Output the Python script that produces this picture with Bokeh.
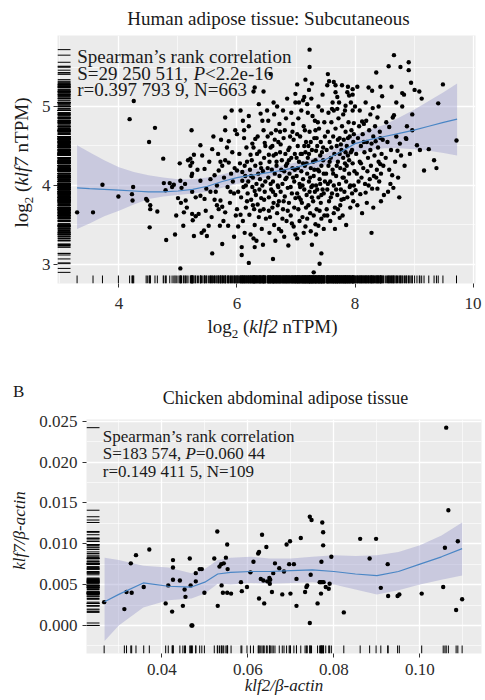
import math
from bokeh.plotting import figure
from bokeh.models import Label, FixedTicker, Range1d, Div
from bokeh.layouts import row
from bokeh.embed import file_html
from bokeh.resources import INLINE

SERIF = "Liberation Serif"

# ---------------- Panel A data: human subcutaneous adipose (log2 nTPM) -------------
hx_L = [3.29,3.56,3.72,3.99,4.24,4.22,4.23,4.25,4.18,4.46, 4.48,4.53,4.53,4.65,4.52,4.61,4.51,4.76,4.79,4.75, 4.80,4.95,4.86,4.93,4.90,4.97]
hy_L = [3.66,3.66,4.01,3.86,3.98,3.89,3.81,5.07,4.84,3.83, 3.81,3.75,3.70,3.67,3.47,4.73,4.55,4.03,3.94,4.34, 3.31,3.38,4.03,4.01,3.98,3.62]
hx_1 = [5.03,5.04,5.06,5.05,5.09,5.10,5.13,5.04,5.17,5.21, 5.24,5.24,5.23,5.24,5.30,5.38,5.24,5.30,5.35,5.25, 5.27,5.40,5.44,5.38,5.23,5.38,5.41,5.21,5.27,5.00, 5.12,5.33,5.47,5.15]
hy_1 = [4.28,4.06,3.97,3.78,3.49,3.66,3.81,2.95,4.32,4.25, 4.29,4.15,4.12,3.92,3.85,3.87,3.64,3.61,3.64,3.56, 3.36,3.40,3.43,4.06,4.70,4.51,4.38,4.34,4.39,3.84, 4.02,4.20,3.68,3.72]
hx_2 = [5.53,5.45,5.48,5.55,5.45,5.52,5.49,5.58,5.62,5.66, 5.69,5.75,5.72,5.80,5.86,5.64,5.72,5.66,5.69,5.75, 5.80,5.71,5.85,5.75,5.95,5.58,5.80,5.91,5.80,5.97, 5.86,5.60,5.68,5.78,5.90,5.93,5.84,5.57,5.62,5.95, 5.88,5.98,5.77,5.92,5.83,5.73,5.96,5.55,5.89]
hy_2 = [4.30,4.21,3.96,3.92,3.83,3.49,3.36,3.14,4.13,4.00, 4.19,4.25,4.30,4.32,4.29,3.92,3.81,3.75,3.70,3.73, 3.66,3.49,3.49,3.26,3.35,4.46,4.86,4.95,4.70,4.70, 4.56,4.62,4.40,4.10,4.15,4.05,3.98,3.60,3.82,3.90, 3.78,3.62,3.55,4.42,4.48,4.58,4.22,4.08,3.92]
hx_3a = [6.00,6.06,6.12,6.40,6.43,6.45,6.31,6.47,6.26,6.23, 6.38,6.28,6.45,6.30,6.00,6.02,6.09,6.00,6.09,6.13, 6.17,6.08,6.08,6.28,6.30,6.20]
hy_3a = [4.65,4.95,4.70,4.91,4.82,4.70,4.59,4.54,4.53,4.39, 4.43,5.19,5.19,5.24,3.70,3.92,4.06,4.19,4.17,4.25, 4.30,3.22,3.12,3.33,3.22,3.02]
hx_3b = [6.04,6.07,6.10,6.11,6.14,6.15,6.16,6.18,6.19,6.21, 6.22,6.24,6.25,6.26,6.27,6.29,6.30,6.31,6.32,6.33, 6.34,6.35,6.36,6.37,6.38,6.39,6.40,6.41,6.42,6.43, 6.44,6.45,6.46,6.47,6.48,6.49,6.05,6.12,6.20,6.35, 6.13,6.23,6.33,6.44,6.06,6.17,6.28,6.39,6.48,6.20, 6.10,6.37,6.24,6.41,6.15,6.30,6.46,6.02,6.27]
hy_3b = [4.40,3.85,3.55,3.98,4.12,3.72,4.48,3.90,4.05,3.63, 4.20,3.82,4.32,3.98,4.10,3.70,3.50,4.25,3.88,4.02, 4.40,3.76,4.15,3.60,3.95,4.08,4.28,3.84,3.45,4.00, 4.18,3.70,4.35,3.92,4.05,3.58,4.28,4.60,4.75,4.62, 3.40,3.38,3.30,3.25,3.63,3.80,4.48,3.68,4.50,4.88, 4.82,5.03,4.12,4.22,4.00,3.93,3.82,3.48,3.75]
hx_4a = [6.62,6.51,6.57,6.54,6.61,6.87,6.99,6.99,6.99]
hy_4a = [5.05,4.95,5.41,4.39,3.07,3.24,3.38,5.16,5.05]
hx_4b = [6.52,6.53,6.54,6.55,6.56,6.57,6.58,6.59,6.60,6.61,
         6.62,6.63,6.64,6.65,6.66,6.67,6.68,6.69,6.70,6.71,
         6.72,6.73,6.74,6.75,6.76,6.77,6.78,6.79,6.80,6.81,
         6.82,6.83,6.84,6.85,6.86,6.87,6.88,6.89,6.90,6.91,
         6.92,6.93,6.94,6.95,6.96,6.97,6.98,6.99,6.53,6.58,
         6.63,6.68,6.72,6.78,6.85,6.92,6.55,6.65,6.71,6.80,
         6.93,6.60,6.66,6.74,6.82,6.89,6.96,6.52,6.62,6.70,
         6.77,6.84,6.91,6.98,6.57,6.67,6.75,6.83,6.88,6.95,
         6.61,6.69,6.79,6.86,6.97,6.54,6.64,6.73,6.81,6.94]
hy_4b = [4.62,4.10,3.85,4.30,3.60,4.48,3.95,4.20,3.72,4.05,
         4.38,3.50,4.15,3.88,4.70,4.25,3.65,4.00,4.55,3.80,
         4.12,4.42,3.92,3.42,4.32,4.02,3.70,4.60,4.18,3.86,
         4.08,4.85,3.55,4.28,3.97,4.45,3.78,4.15,4.62,3.62,
         4.35,3.90,4.22,4.78,3.48,4.05,4.40,3.84,4.82,4.66,
         4.90,5.00,4.78,4.95,5.10,4.92,3.40,3.30,3.45,3.35,
         3.52,4.50,4.40,4.52,4.40,4.48,4.58,4.22,3.78,3.98,
         3.58,4.10,3.98,4.20,4.02,4.30,4.20,4.25,4.32,4.10,
         3.92,3.75,3.80,3.68,3.72,3.68,4.58,4.68,4.70,4.68]
hx_5a = [7.23,7.23,7.16,7.02,7.27,7.22,7.05,7.19,7.12,7.43, 7.33,7.38,7.25,7.27,7.43,7.40,7.30,7.02]
hy_5a = [5.72,5.50,5.34,5.28,5.29,5.21,5.05,5.03,5.08,3.58, 3.51,3.49,3.42,3.25,3.14,3.01,2.90,3.33]
hx_5b = [7.01,7.02,7.03,7.04,7.05,7.06,7.07,7.08,7.09,7.10,
         7.11,7.12,7.13,7.14,7.15,7.16,7.17,7.18,7.19,7.20,
         7.21,7.22,7.23,7.24,7.25,7.26,7.27,7.28,7.29,7.30,
         7.31,7.32,7.33,7.34,7.35,7.36,7.37,7.38,7.39,7.40,
         7.41,7.42,7.43,7.44,7.45,7.46,7.47,7.48,7.49,7.04,
         7.09,7.14,7.20,7.26,7.32,7.38,7.45,7.06,7.13,7.19,
         7.34,7.47,7.03,7.08,7.11,7.16,7.21,7.24,7.29,7.33,
         7.36,7.41,7.46,7.49,7.02,7.07,7.12,7.17,7.22,7.27,
         7.31,7.35,7.40,7.44,7.48,7.05,7.15,7.25,7.30,7.37,
         7.42,7.10,7.18,7.28,7.39,7.47,7.01,7.14,7.23,7.34,
         7.43]
hy_5b = [4.12,3.90,4.50,3.70,4.30,4.02,4.62,3.82,4.18,4.40,
         3.60,4.08,4.75,3.95,4.25,3.48,4.55,3.88,4.15,4.35,
         3.75,4.05,4.68,3.65,4.22,3.98,4.45,4.88,3.80,4.12,
         4.60,3.92,4.32,4.00,3.70,4.50,4.20,3.85,4.72,4.08,
         4.38,3.78,4.25,4.95,3.95,4.48,4.15,3.62,4.62,4.85,
         4.95,5.12,4.92,5.10,4.82,5.00,5.15,3.55,3.40,3.58,
         3.38,3.45,4.22,4.40,4.00,4.42,4.50,4.10,4.30,4.70,
         3.95,4.02,4.32,4.05,4.65,3.98,4.28,3.72,4.40,3.85,
         4.20,4.60,3.68,4.42,4.80,3.85,4.70,4.55,3.62,4.80,
         4.55,3.78,4.28,4.00,4.18,3.90,4.35,4.50,3.92,4.44,
         3.88]
hx_6a = [7.54,7.53,7.64,7.67,7.78,7.88,7.96,7.67,7.70,7.87, 7.90,7.96,7.84,7.83,7.70,7.61,7.64,7.96,7.98,7.81, 7.75,7.71,7.64,7.53,7.74,7.98,7.56]
hy_6a = [5.41,5.27,5.31,5.27,5.27,5.25,5.22,5.18,5.12,5.18, 5.14,5.15,5.01,4.95,4.97,4.97,4.95,4.95,4.79,3.83, 3.75,3.70,3.65,3.62,3.59,4.00,5.32]
hx_6b = [7.51,7.52,7.53,7.54,7.55,7.56,7.57,7.58,7.59,7.60,
         7.61,7.62,7.63,7.64,7.65,7.66,7.67,7.68,7.69,7.70,
         7.71,7.72,7.73,7.74,7.75,7.76,7.77,7.78,7.79,7.80,
         7.81,7.82,7.83,7.84,7.85,7.86,7.87,7.88,7.89,7.90,
         7.91,7.92,7.93,7.94,7.95,7.96,7.97,7.99,7.52,7.58,
         7.66,7.79,7.85,7.92,7.55,7.62,7.73,7.80,7.93,7.57,
         7.63,7.69,7.76,7.82,7.88,7.95,7.54,7.60,7.68,7.74,
         7.81,7.86,7.91,7.98,7.59,7.71,7.77,7.84,7.90,7.97]
hy_6b = [4.15,4.45,3.95,4.68,4.25,3.80,4.55,4.05,4.35,4.80,
         3.90,4.20,4.62,4.00,4.40,3.72,4.72,4.12,4.50,3.88,
         4.30,4.85,4.02,4.60,4.22,3.95,4.45,4.75,4.10,4.35,
         4.58,3.92,4.28,4.68,4.05,4.50,3.85,4.38,4.80,4.15,
         4.62,4.00,4.42,4.70,3.90,4.28,4.55,4.18,3.70,3.55,
         3.45,3.62,3.50,3.72,4.92,5.05,5.05,4.90,5.05,4.30,
         4.15,4.25,4.52,4.20,4.60,4.45,4.02,4.48,3.95,4.40,
         4.10,4.25,3.98,4.65,3.85,4.58,3.82,4.42,4.32,3.80]
hx_7a = [8.04,8.23,8.29,8.43,8.46,8.36,8.30,8.38,8.19,8.12, 8.15,8.07,8.00,8.43,8.35,8.28,8.38,8.29,8.18,8.09, 8.01,8.49,8.28,8.43]
hy_7a = [5.25,5.24,5.20,5.25,5.13,5.43,4.98,4.86,4.82,4.81, 4.78,4.75,5.00,4.60,4.56,4.53,3.96,3.96,3.91,3.89, 3.94,3.88,3.40,4.27]
hx_7b = [8.02,8.03,8.05,8.06,8.08,8.10,8.11,8.13,8.14,8.16, 8.17,8.20,8.21,8.22,8.24,8.25,8.26,8.27,8.31,8.32, 8.33,8.34,8.37,8.39,8.40,8.41,8.42,8.44,8.45,8.47, 8.48,8.04,8.12,8.20,8.31,8.44,8.08,8.18,8.26,8.40, 8.10,8.23,8.36,8.15]
hy_7b = [4.40,4.15,4.60,4.05,4.30,4.50,4.10,4.65,4.22,4.42, 4.02,4.55,4.18,4.35,4.70,4.08,4.45,4.25,4.62,4.12, 4.38,4.75,4.20,4.48,4.30,4.05,4.68,4.15,4.40,4.58, 4.25,3.75,3.65,3.78,3.72,3.80,4.95,5.05,4.90,5.00, 4.28,4.00,4.10,4.55]
hx_8 = [8.66,8.57,8.77,8.91,8.80,8.83,8.80,8.64,8.97,8.86, 8.58,8.63,8.60,8.65,8.91,8.87,8.76,8.72,8.66,8.97, 8.52,8.55,8.58,8.61,8.68,8.70,8.73,8.78,8.84,8.88, 8.93,8.53,8.70,8.95,8.56,8.75,8.62]
hy_8 = [5.65,5.51,5.50,5.56,5.17,5.15,5.00,4.86,4.70,4.60, 4.74,4.13,4.02,3.97,5.46,4.59,4.53,4.44,4.89,4.90, 4.35,4.55,4.20,4.45,4.30,4.62,4.10,4.38,4.25,4.75, 4.40,4.80,5.05,5.30,3.92,3.85,5.25]
hx_9 = [9.01,9.09,9.13,9.49,9.41,9.72,9.05,9.25,9.17,9.34,9.38,9.10]
hy_9 = [5.21,5.19,5.10,5.28,5.04,4.57,4.51,4.46,4.19,4.32,4.22,4.45]

human_klf2 = hx_L + hx_1 + hx_2 + hx_3a + hx_3b + hx_4a + hx_4b + hx_5a + hx_5b + hx_6a + hx_6b + hx_7a + hx_7b + hx_8 + hx_9
human_klf7 = hy_L + hy_1 + hy_2 + hy_3a + hy_3b + hy_4a + hy_4b + hy_5a + hy_5b + hy_6a + hy_6b + hy_7a + hy_7b + hy_8 + hy_9

# LOESS fit with confidence band
human_fit_x = [3.29,3.5,3.75,4.0,4.25,4.5,4.75,5.0,5.25,5.5,5.75,6.0,6.25,6.5,6.75,7.0,7.25,7.5,7.75,8.0,8.25,8.5,8.75,9.0,9.25,9.5,9.73]
human_fit_y = [3.97,3.96,3.95,3.94,3.93,3.92,3.92,3.93,3.95,3.99,4.05,4.10,4.13,4.16,4.19,4.23,4.28,4.33,4.42,4.53,4.58,4.62,4.66,4.70,4.75,4.80,4.84]
human_fit_hi = [4.51,4.42,4.32,4.23,4.17,4.13,4.10,4.08,4.08,4.10,4.14,4.19,4.21,4.22,4.25,4.29,4.34,4.40,4.51,4.64,4.71,4.77,4.86,4.96,5.07,5.18,5.29]
human_fit_lo = [3.45,3.52,3.61,3.68,3.76,3.83,3.86,3.88,3.90,3.92,3.97,4.02,4.06,4.10,4.13,4.16,4.21,4.26,4.33,4.42,4.45,4.47,4.47,4.46,4.44,4.41,4.38]

human_xticks = [4, 6, 8, 10]
human_xtick_labels = ["4", "6", "8", "10"]
human_xminor = [3, 5, 7, 9]
human_yticks = [3, 4, 5]
human_ytick_labels = ["3", "4", "5"]
human_yminor = [2.5, 3.5, 4.5, 5.5]

# ---------------- Panel B data: chicken abdominal adipose -------------
chicken_klf2 = [0.0266,0.0313,0.0318,0.0330,0.0328,0.0340,0.0358,0.0371,0.0409,0.0415,
                0.0424,0.0426,0.0426,0.0426,0.0442,0.0449,0.0453,0.0455,0.0465,0.0467,
                0.0469,0.0471,0.0479,0.0479,0.0488,0.0493,0.0499,0.0529,0.0522,0.0530,
                0.0534,0.0538,0.0539,0.0542,0.0544,0.0549,0.0552,0.0553,0.0552,0.0561,
                0.0584,0.0586,0.0598,0.0606,0.0613,0.0624,0.0626,0.0633,0.0626,0.0630,
                0.0638,0.0643,0.0645,0.0651,0.0656,0.0663,0.0673,0.0680,0.0684,0.0690,
                0.0698,0.0696,0.0699,0.0707,0.0713,0.0713,0.0723,0.0733,0.0736,0.0738,
                0.0744,0.0748,0.0746,0.0744,0.0762,0.0769,0.0770,0.0771,0.0773,0.0775,
                0.0775,0.0776,0.0781,0.0788,0.0790,0.0794,0.0823,0.0861,0.0883,0.0898,
                0.0909,0.0925,0.0926,0.0948,0.0952,0.1004,0.1054,0.1058,0.1061,0.1066,
                0.1084,0.1088,0.1098,0.0659,0.0650,0.0636,0.0772,0.0767,0.0652]
chicken_klf7 = [0.00285,0.0020,0.0041,0.0040,0.0076,0.0086,0.0047,0.0093,0.0027,0.0049,
                0.0017,0.0056,0.0071,0.0080,0.0055,0.0024,0.0044,0.0035,0.0082,0.0049,
                0.0000,0.0000,0.0064,0.0054,0.0069,0.0069,0.0040,0.0115,0.0082,0.0024,
                0.0072,0.0075,0.0049,0.0040,0.0076,0.0083,0.0099,0.0069,0.0040,0.0039,
                0.0053,0.0042,0.0047,0.0065,0.0078,0.0088,0.0090,0.0111,0.0033,0.0057,
                0.0027,0.0096,0.0054,0.0051,0.0041,0.0076,0.0070,0.0038,0.0066,0.0099,
                0.0103,0.0075,0.0039,0.0075,0.0057,0.0024,0.0107,0.0041,0.0047,0.0049,
                0.0133,0.0129,0.0062,0.0003,0.0027,0.0053,0.0039,0.0078,0.0126,0.0114,
                0.0098,0.0053,0.0047,0.0045,0.0051,0.0084,0.0016,0.0106,0.0082,0.0106,
                0.0046,0.0075,0.0036,0.0036,0.0038,0.0039,0.0047,0.0095,0.0242,0.0141,
                0.0019,0.0103,0.0032,0.0064,0.0058,0.0055,0.0053,0.0053,0.0056]

chicken_fit_x = [0.0267,0.0300,0.0357,0.0415,0.0469,0.0500,0.0530,0.0560,0.0607,0.0650,0.0700,0.0750,0.0800,0.0850,0.0900,0.0950,0.1000,0.1050,0.1098]
chicken_fit_y = [0.0029,0.0038,0.0052,0.0048,0.0047,0.0053,0.0063,0.0065,0.0066,0.0066,0.0067,0.0068,0.0066,0.0063,0.0061,0.0066,0.0075,0.0084,0.0094]
chicken_fit_hi = [0.0083,0.0080,0.0073,0.0071,0.0064,0.0069,0.0080,0.0083,0.0084,0.0082,0.0082,0.0084,0.0086,0.0085,0.0086,0.0090,0.0098,0.0110,0.0126]
chicken_fit_lo = [-0.0019,0.0000,0.0022,0.0031,0.0033,0.0039,0.0051,0.0050,0.0052,0.0051,0.0052,0.0053,0.0050,0.0044,0.0038,0.0043,0.0050,0.0056,0.0061]

chicken_xticks = [0.04, 0.06, 0.08, 0.10]
chicken_xtick_labels = ["0.04", "0.06", "0.08", "0.10"]
chicken_xminor = [0.03, 0.05, 0.07, 0.09, 0.11]
chicken_yticks = [0.0, 0.005, 0.010, 0.015, 0.020, 0.025]
chicken_ytick_labels = ["0.000", "0.005", "0.010", "0.015", "0.020", "0.025"]
chicken_yminor = [-0.0025, 0.0025, 0.0075, 0.0125, 0.0175, 0.0225]

# ---------------- text metrics (Times / Liberation Serif, 1/1000 em) -------------
REG = {' ': 250, '(': 333, ')': 333, ',': 250, '-': 333, '.': 250, '<': 564, '=': 564,
       'S': 556, 'P': 556, 'N': 722, 'T': 611, 'M': 889, 'a': 444, 'c': 444, 'e': 444,
       'g': 500, 'i': 278, 'k': 500, 'l': 278, 'm': 778, 'n': 500, 'o': 500, 'p': 500,
       'r': 333, 's': 389, 't': 278, '\u2019': 333, 'f': 333}
ITA = {'P': 611, 'k': 444, 'l': 278, 'f': 278}


def text_width(s, size, italic=False):
    tab = ITA if italic else REG
    w = 0
    for ch in s:
        if ch.isdigit():
            w += 500
        else:
            w += tab.get(ch, REG.get(ch, 500))
    return w * size / 1000.0


BG = "#EBEBEB"
TXT = "#1a1a1a"
BASE = 0.8375   # baseline offset (in em) inside a line box whose line-height equals font-size


def make_panel(width, height, xr, yr, borders, xt, xtl, xmin, yt, ytl, ymin, xstand, ystand):
    p = figure(width=width, height=height, x_range=Range1d(*xr), y_range=Range1d(*yr),
               output_backend="svg", toolbar_location=None,
               min_border_left=borders[0], min_border_right=borders[1],
               min_border_top=borders[2], min_border_bottom=borders[3])
    p.background_fill_color = BG
    p.border_fill_color = "white"
    p.outline_line_color = None
    p.xaxis.ticker = FixedTicker(ticks=xt, minor_ticks=xmin)
    p.yaxis.ticker = FixedTicker(ticks=yt, minor_ticks=ymin)
    p.xaxis.major_label_overrides = dict(zip(xt, xtl))
    p.yaxis.major_label_overrides = dict(zip(yt, ytl))
    p.xaxis.major_label_standoff = xstand
    p.yaxis.major_label_standoff = ystand
    for ax in (p.xaxis, p.yaxis):
        ax.axis_line_color = None
        ax.major_tick_line_color = "#333333"
        ax.major_tick_out = 4
        ax.major_tick_in = 0
        ax.minor_tick_line_color = None
        ax.major_label_text_font = SERIF
        ax.major_label_text_font_size = "17px"
        ax.major_label_text_color = "#2b2b2b"
    for g in (p.xgrid, p.ygrid):
        g.grid_line_color = "white"
        g.grid_line_width = 1.3
        g.minor_grid_line_color = "white"
        g.minor_grid_line_width = 0.6
    p.xgrid.ticker = FixedTicker(ticks=xt, minor_ticks=xmin)
    p.ygrid.ticker = FixedTicker(ticks=yt, minor_ticks=ymin)
    return p


def draw_data(p, xs, ys, fx, fy, flo, fhi, xr, yr, frame_w, frame_h):
    p.varea(x=fx, y1=flo, y2=fhi, fill_color="#9fa0cf", fill_alpha=0.45)
    p.scatter(xs, ys, size=4.4, color="black", line_color=None)
    xlen = (xr[1] - xr[0]) / frame_w * 13.0
    ylen = (yr[1] - yr[0]) / frame_h * 8.0
    p.segment(x0=[xr[0]] * len(ys), y0=ys, x1=[xr[0] + xlen] * len(ys), y1=ys,
              line_color="black", line_width=1.0)
    p.segment(x0=xs, y0=[yr[0]] * len(xs), x1=xs, y1=[yr[0] + ylen] * len(xs),
              line_color="black", line_width=1.0)
    p.line(fx, fy, line_color="#4a86c5", line_width=1.2)


def put(p, fl, fb, px, py, text, size, italic=False, align="left", color=TXT):
    p.add_layout(Label(x=px - fl, y=fb - py, x_units="screen", y_units="screen",
                       text=text, text_font=SERIF, text_font_size="%.1fpx" % size,
                       text_font_style="italic" if italic else "normal",
                       text_align=align, text_baseline="alphabetic", text_color=color))


def runs_h(p, fl, fb, px, py, runs):
    x = px
    for (t, ital, size) in runs:
        put(p, fl, fb, x, py, t, size, ital)
        x += text_width(t, size, ital)


def html_line(inner, left, top, width, size, align="center", rotate=False):
    st = ("position:absolute;left:%.1fpx;top:%.1fpx;width:%.1fpx;height:%dpx;line-height:%dpx;"
          "font-size:%dpx;font-family:'Liberation Serif',serif;color:%s;white-space:nowrap;"
          "text-align:%s;margin:0;padding:0;" % (left, top, width, size, size, size, TXT, align))
    if rotate:
        st += "transform:rotate(-90deg);transform-origin:50% 50%;"
    return '<div style="%s">%s</div>' % (st, inner)


def html_box(w, h, content):
    return ('<div style="position:relative;width:%dpx;height:%dpx;margin:0;padding:0;overflow:visible;">%s</div>'
            % (w, h, content))


def text_div(w, h, content):
    return Div(width=w, height=h, margin=(0, 0, 0, 0), text=html_box(w, h, content))


SUB2 = '<span style="font-size:13px;line-height:0;position:relative;top:5px;">2</span>'

# ---------------- Panel A -------------
A_xr = (2.958, 10.042)
A_yr = (2.759, 5.899)
A_fl, A_fb = 57, 283          # frame left / bottom on the page
tA = 19

divTA = text_div(485, 35, html_line("Human adipose tissue: Subcutaneous",
                                    268.5 - 200, 24.5 - BASE * tA, 400, tA))

cxA = 27.5 - (BASE - 0.5) * tA
cyA = 162 - 35
divYA = text_div(36, 281, html_line("log" + SUB2 + " (<i>klf7</i> nTPM)",
                                    cxA - 100, cyA - tA / 2.0, 200, tA, rotate=True))

pA = make_panel(449, 281, A_xr, A_yr, (21, 10, 0, 33),
                human_xticks, human_xtick_labels, human_xminor,
                human_yticks, human_ytick_labels, human_yminor, 10, 3)
draw_data(pA, human_klf2, human_klf7, human_fit_x, human_fit_y, human_fit_lo, human_fit_hi,
          A_xr, A_yr, 418, 248)
put(pA, A_fl, A_fb, 76.7, 56.0, "Spearman\u2019s rank correlation", 19)
runs_h(pA, A_fl, A_fb, 76.7, 72.7, [("S=29 250 511, ", False, 19), ("P", True, 19), ("<2.2e-16", False, 19)])
put(pA, A_fl, A_fb, 76.7, 89.4, "r=0.397 793 9, N=663", 19)

divXA = text_div(485, 37, html_line("log" + SUB2 + " (<i>klf2</i> nTPM)",
                                    272.5 - 150, 333 - 316 - BASE * tA, 300, tA))

# ---------------- Panel B -------------
divTB = text_div(485, 57,
                 html_line("B", 13, 397 - 353 - BASE * 17, 30, 17, align="left") +
                 html_line("Chicken abdominal adipose tissue", 285.5 - 200, 404.3 - 353 - BASE * 18, 400, 18))

tB = 17
cxB = 24.5 - (BASE - 0.5) * tB
cyB = 530 - 410
divYB = text_div(36, 290, html_line("<i>klf7/\u03b2-actin</i>",
                                    cxB - 100, cyB - tB / 2.0, 200, tB, rotate=True))

B_xr = (0.0225, 0.1143)
B_yr = (-0.00343, 0.0252)
B_fl, B_fb = 86, 653
pB = make_panel(449, 290, B_xr, B_yr, (50, 4, 9, 47),
                chicken_xticks, chicken_xtick_labels, chicken_xminor,
                chicken_yticks, chicken_ytick_labels, chicken_yminor, 6, 5)
draw_data(pB, chicken_klf2, chicken_klf7, chicken_fit_x, chicken_fit_y, chicken_fit_lo, chicken_fit_hi,
          B_xr, B_yr, 395, 234)
pB.xaxis.axis_label = "klf2/\u03b2-actin"
pB.xaxis.axis_label_text_font = SERIF
pB.xaxis.axis_label_text_font_style = "italic"
pB.xaxis.axis_label_text_font_size = "17px"
pB.xaxis.axis_label_text_color = TXT
pB.xaxis.axis_label_standoff = -2

put(pB, B_fl, B_fb, 102.3, 435.7, "Spearman\u2019s rank correlation", 17)
runs_h(pB, B_fl, B_fb, 102.3, 453.3, [("S=183 574, ", False, 17), ("P", True, 17), ("=0.060 44", False, 17)])
put(pB, B_fl, B_fb, 102.3, 470.7, "r=0.149 411 5, N=109", 17)

rowA = row(divYA, pA, spacing=0)
rowB = row(divYB, pB, spacing=0)
open("out.html", "w").write(file_html([divTA, rowA, divXA, divTB, rowB], INLINE))
